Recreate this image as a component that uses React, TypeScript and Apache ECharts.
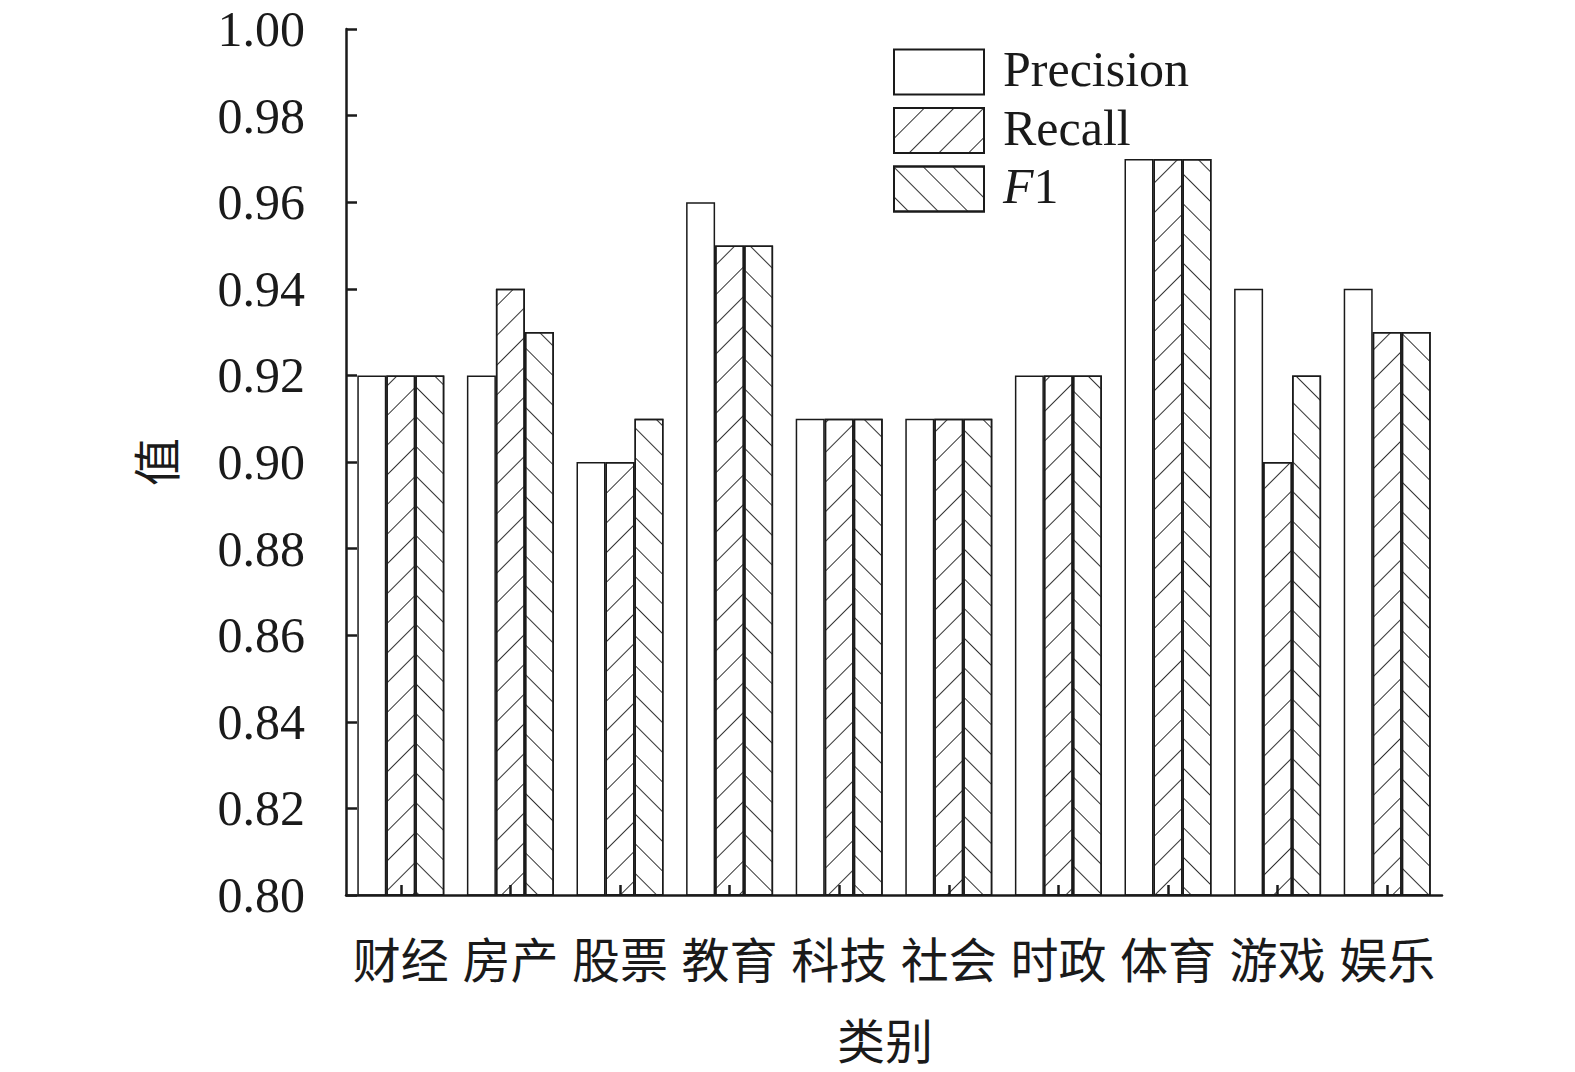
import React, { useEffect, useRef } from "react";
import * as echarts from "echarts";

const categories = ["财经", "房产", "股票", "教育", "科技", "社会", "时政", "体育", "游戏", "娱乐"];
const precision = [0.92, 0.92, 0.90, 0.96, 0.91, 0.91, 0.92, 0.97, 0.94, 0.94];
const recall = [0.92, 0.94, 0.90, 0.95, 0.91, 0.91, 0.92, 0.97, 0.90, 0.93];
const f1 = [0.92, 0.93, 0.91, 0.95, 0.91, 0.91, 0.92, 0.97, 0.92, 0.93];
const seriesNames = ["Precision", "Recall", "F1"];

const SERIF = "'Liberation Serif', 'Times New Roman', 'Noto Sans CJK SC', serif";
const CJK = "'Noto Sans CJK SC', 'Liberation Serif', serif";
const INK = "#1a1a1a";

export default function App() {
  const ref = useRef<HTMLDivElement>(null);
  useEffect(() => {
    if (!ref.current) return;
    const chart = echarts.init(ref.current, null, { renderer: "svg" });
    const hatch = (rotation: number) => ({
      symbol: "rect",
      symbolSize: 1,
      color: "#333",
      dashArrayX: [1, 0],
      dashArrayY: [1, 20],
      rotation,
    });
    const barStyle = (decal: any) => ({
      color: "#fff",
      borderColor: INK,
      borderWidth: 1.5,
      ...(decal ? { decal } : {}),
    });
    const dataSets = [precision, recall, f1];
    const decals = [null, hatch(-Math.PI / 4), hatch(Math.PI / 4)];
    chart.setOption({
      animation: false,
      backgroundColor: "#fff",
      grid: { left: 346, top: 29, width: 1096, height: 866, containLabel: false },
      legend: {
        orient: "vertical",
        left: 888,
        top: 39,
        itemWidth: 90,
        itemHeight: 45,
        itemGap: 5,
        selectedMode: false,
        icon: "rect",
        data: seriesNames,
        formatter: (name: string) => (name === "F1" ? "{i|F}1" : name),
        textStyle: {
          fontFamily: SERIF,
          fontSize: 50,
          color: INK,
          lineHeight: 45,
          padding: [0, 0, 6, 14],
          rich: {
            i: { fontStyle: "italic", fontFamily: SERIF, fontSize: 50, color: INK, lineHeight: 45 },
          },
        },
      },
      xAxis: {
        type: "category",
        data: categories,
        z: 5,
        name: "类别",
        nameLocation: "middle",
        nameGap: 118,
        nameTextStyle: { fontFamily: CJK, fontSize: 48, color: INK, lineHeight: 50, padding: [0, 18, 0, 0] },
        axisLine: { lineStyle: { color: INK, width: 2.5 } },
        axisTick: { show: true, inside: true, alignWithLabel: true, length: 10, lineStyle: { color: INK, width: 2.5 } },
        axisLabel: { fontFamily: CJK, fontSize: 48, color: INK, margin: 38, interval: 0 },
        splitLine: { show: false },
      },
      yAxis: {
        type: "value",
        min: 0.8,
        max: 1.0,
        interval: 0.02,
        z: 5,
        name: "值",
        nameLocation: "middle",
        nameRotate: 90,
        nameGap: 168,
        nameTextStyle: { fontFamily: CJK, fontSize: 48, color: INK },
        axisLine: { show: true, lineStyle: { color: INK, width: 2.5 } },
        axisTick: { show: true, inside: true, length: 11, lineStyle: { color: INK, width: 2.5 } },
        axisLabel: {
          fontFamily: SERIF,
          fontSize: 50,
          color: INK,
          margin: 41,
          formatter: (v: number) => v.toFixed(2),
        },
        splitLine: { show: false },
      },
      series: seriesNames.map((name, i) => ({
        name,
        type: "bar",
        data: dataSets[i],
        barWidth: 29,
        barGap: "0%",
        itemStyle: barStyle(decals[i]),
        emphasis: { disabled: true },
      })),
    });
    return () => chart.dispose();
  }, []);
  return (
    <div
      ref={ref}
      style={{ position: "fixed", left: 0, top: 0, width: 1575, height: 1072, background: "#fff" }}
    />
  );
}
